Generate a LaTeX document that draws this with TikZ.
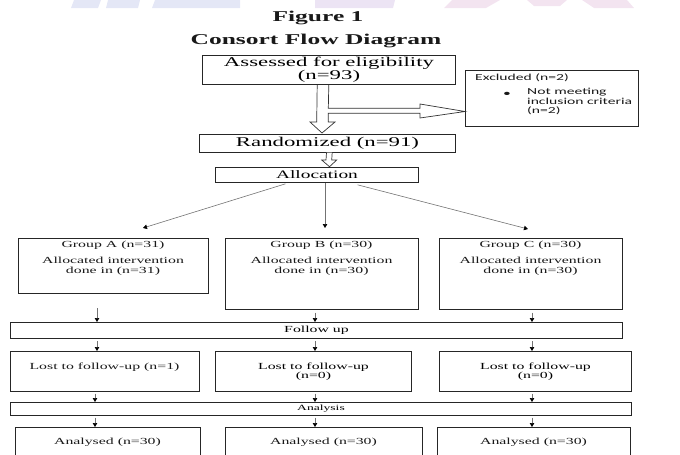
\documentclass[tikz,border=0pt]{standalone}
\usepackage{fontspec}
\setmainfont{Liberation Serif}[FakeStretch=1.7]
\newfontfamily\exfont{Carlito}[FakeStretch=1.7]
\usetikzlibrary{arrows.meta,calc}
\newcommand\fTitle{\fontsize{15}{17}\bfseries\selectfont}
\newcommand\fBig{\fontsize{13.4}{12.6}\selectfont}
\newcommand\fMid{\fontsize{11.4}{12}\selectfont}
\newcommand\fSm{\fontsize{9.3}{9.5}\selectfont}
\newcommand\fAn{\fontsize{8}{9}\selectfont}
\newcommand\fEx{\fontsize{9.2}{9.6}\selectfont}
\definecolor{wmblue}{RGB}{228,231,246}
\definecolor{wmlav}{RGB}{236,228,244}
\definecolor{wmpink}{RGB}{243,228,240}
\begin{document}
\begin{tikzpicture}[x=1pt,y=-1pt,
  box/.style={draw=black!85, line width=1pt, inner sep=0pt, anchor=north west},
  txt/.style={inner sep=0pt, align=center, text=black!90},
  arr/.style={draw=black!55, line width=0.6pt, -{Triangle[length=4pt,width=4.5pt,color=black]}},
  hollow/.style={draw=black!80, line width=0.7pt, fill=white, line join=miter}]
\useasboundingbox (0,0) rectangle (680,455);
\clip (0,0) rectangle (680,455);
% faint watermark at the top edge
\fill[wmblue] (74,0) -- (101,0) -- (98,8) -- (71,8) -- cycle;
\fill[wmblue] (108,0) -- (140,0) -- (138,8) -- (106,8) -- cycle;
\fill[wmblue] (155,0) -- (240,0) -- (240,8) -- (152,8) -- cycle;
\fill[wmlav] (315,0) -- (395,0) -- (393,8) -- (315,8) -- cycle;
\fill[wmpink] (452,0) -- (500,0) -- (486,8) -- (444,8) -- cycle;
\fill[wmpink] (527,0) -- (567,0) -- (560,6) -- (534,6) -- cycle;
\fill[wmpink] (582,0) -- (627,0) -- (634,8) -- (594,8) -- cycle;

% titles
\node[txt, font=\fTitle] (fig) at (318,18) {Figure 1};
\node[txt, font=\fTitle] (ttl) at (316,41) {Consort Flow Diagram};

% boxes
\node[box, minimum width=253pt, minimum height=29pt, font=\fBig, align=center] (asse) at (202,55) {Assessed for eligibility\\(n=93)};
\node[box, minimum width=173pt, minimum height=56pt] (excl) at (465,70) {};
\node[box, minimum width=256pt, minimum height=17.5pt, font=\fBig] (rand) at (199,134) {Randomized (n=91)};
\node[box, minimum width=203pt, minimum height=15.6pt, font=\fMid] (allo) at (215,166.7) {Allocation};

\node[box, minimum width=190pt, minimum height=55pt] (ga) at (18,238) {};
\node[box, minimum width=193pt, minimum height=71pt] (gb) at (225,238) {};
\node[box, minimum width=183pt, minimum height=71pt] (gc) at (439,238) {};

\node[box, minimum width=612pt, minimum height=16pt, font=\fSm] (fu) at (10,322) {Follow up};

\node[box, minimum width=189pt, minimum height=40pt] (la) at (10,351) {};
\node[box, minimum width=196pt, minimum height=40pt, font=\fSm, align=center] (lb) at (215,351) {Lost to follow-up\\(n=0)};
\node[box, minimum width=192pt, minimum height=40pt, font=\fSm, align=center] (lc) at (439,351) {Lost to follow-up\\(n=0)};

\node[box, minimum width=621pt, minimum height=13pt, font=\fAn] (an) at (10,402) {Analysis};

\node[box, minimum width=185pt, minimum height=45pt] (da) at (15,427) {};
\node[box, minimum width=197pt, minimum height=45pt] (db) at (225,427) {};
\node[box, minimum width=193pt, minimum height=45pt] (dc) at (437,427) {};

% texts placed inside boxes
\node[txt, font=\exfont\fEx, anchor=west] (ex1) at (475,77.5) {Excluded (n=2)};
\node[txt, font=\exfont\fEx] (bul) at (507,94) {\textbullet};
\node[txt, font=\exfont\fEx, align=left, anchor=north west] (ex2) at (527,88) {Not meeting\\inclusion criteria\\(n=2)};

\node[txt, font=\fSm] (gat) at (113,245) {Group A (n=31)};
\node[txt, font=\fSm] (gaa) at (113,266.5) {Allocated intervention\\done in (n=31)};
\node[txt, font=\fSm] (gbt) at (321.5,245) {Group B (n=30)};
\node[txt, font=\fSm] (gba) at (321.5,266.5) {Allocated intervention\\done in (n=30)};
\node[txt, font=\fSm] (gct) at (530.5,245) {Group C (n=30)};
\node[txt, font=\fSm] (gca) at (530.5,266.5) {Allocated intervention\\done in (n=30)};

\node[txt, font=\fSm] (lat) at (104.5,367) {Lost to follow-up (n=1)};

\node[txt, font=\fSm] (dat) at (107.5,442) {Analysed (n=30)};
\node[txt, font=\fSm] (dbt) at (323.5,442) {Analysed (n=30)};
\node[txt, font=\fSm] (dct) at (533.5,442) {Analysed (n=30)};

% hollow arrow: Assessed -> Randomized, with branch to Excluded
\draw[hollow]
  ($(asse.south)+(-11.8,0)$) -- (316.7,122) -- (310,122) -- ($(rand.north)+(-5.5,-1)$)
  -- (335,122) -- (328.3,122) -- (328.3,113.3) -- (420,113.3) -- (420,118)
  -- ($(excl.west)+(0,13)$) -- (420,104) -- (420,108.3) -- (328.3,108.3)
  -- ($(asse.south)+(-0.2,0)$);
% small hollow arrow: Randomized -> Allocation
\draw[hollow]
  ($(rand.south)+(-1,0)$) -- (326,160) -- (321.7,160) -- ($(allo.north)+(12.5,0)$)
  -- (336.7,160) -- (331.7,160) -- ($(rand.south)+(4.7,0)$);

% allocation arrows
\coordinate (endA) at (143,228);
\coordinate (endB) at (325,228);
\coordinate (endC) at (528,229);
\draw[arr] ($(allo.south)+(-31.5,0.5)$) -- (endA);
\draw[arr] (allo.south -| endB) -- (endB);
\draw[arr] ($(allo.south)+(40.5,1.5)$) -- (endC);

% column arrows
\coordinate (cA) at (97,0);
\coordinate (cA2) at (95,0);
\coordinate (cB) at (315,0);
\coordinate (cC) at (532,0);
\draw[arr, shorten <=14pt] (ga.south -| cA) -- (fu.north -| cA);
\draw[arr, shorten <=2.5pt] (gb.south -| cB) -- (fu.north -| cB);
\draw[arr, shorten <=2.5pt] (gc.south -| cC) -- (fu.north -| cC);
\draw[arr, shorten <=2pt] (fu.south -| cA) -- (la.north -| cA);
\draw[arr, shorten <=2pt] (fu.south -| cB) -- (lb.north -| cB);
\draw[arr, shorten <=2pt] (fu.south -| cC) -- (lc.north -| cC);
\draw[arr, shorten <=1.5pt] (la.south -| cA2) -- (an.north -| cA2);
\draw[arr, shorten <=1.5pt] (lb.south -| cB) -- (an.north -| cB);
\draw[arr, shorten <=1.5pt] (lc.south -| cC) -- (an.north -| cC);
\draw[arr, shorten <=1.5pt] (an.south -| cA2) -- (da.north -| cA2);
\draw[arr, shorten <=1.5pt] (an.south -| cB) -- (db.north -| cB);
\draw[arr, shorten <=1.5pt] (an.south -| cC) -- (dc.north -| cC);
\end{tikzpicture}
\end{document}
